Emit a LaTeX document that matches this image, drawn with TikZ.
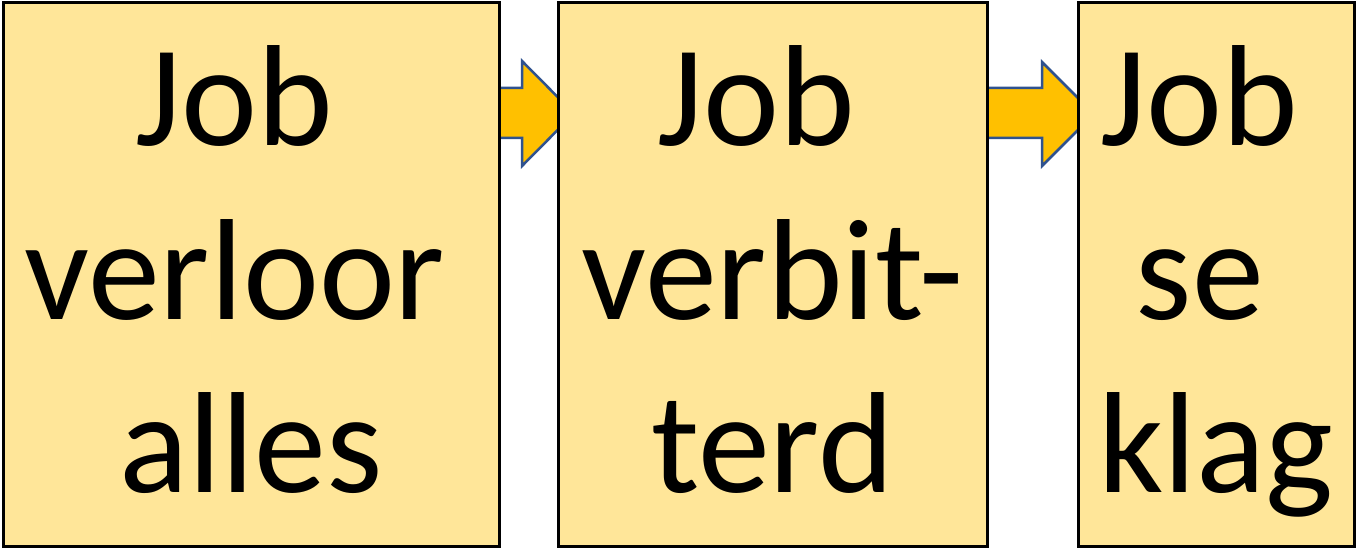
\documentclass[tikz,border=0pt]{standalone}
\usepackage{fontspec}
\setmainfont{Carlito}
\usetikzlibrary{calc}
\definecolor{boxfill}{HTML}{FFE699}
\definecolor{arrowfill}{HTML}{FFC000}
\definecolor{arrowline}{HTML}{2F528F}
\tikzset{
  box/.style={draw=black, line width=3pt, fill=boxfill, inner sep=0pt, rectangle},
  word/.style={anchor=base, inner sep=0pt, font=\fontsize{144}{170}\selectfont},
  blockarrow/.style={draw=arrowline, fill=arrowfill, line width=2.5pt, line join=miter},
}
\newcommand{\tsp}{\hspace*{0.226em}}
\begin{document}
\begin{tikzpicture}[x=1pt,y=-1pt]
\useasboundingbox (0,0) rectangle (1357,548);
% arrows (behind boxes)
\coordinate (a1s) at (490,113.5);
\coordinate (a2s) at (978,113.5);
\draw[blockarrow] (a1s |- 0,88) -- (522,88) -- (522,61) -- (574,113.5) -- (522,166) -- (522,138) -- (a1s |- 0,138) -- cycle;
\draw[blockarrow] (a2s |- 0,88) -- (1042,88) -- (1042,62) -- (1094,114) -- (1042,166) -- (1042,138) -- (a2s |- 0,138) -- cycle;
% boxes
\node[box, minimum width=496pt, minimum height=543pt] (b1) at (251,274.5) {};
\node[box, minimum width=429pt, minimum height=543pt] (b2) at (772.5,274.5) {};
\node[box, minimum width=276pt, minimum height=543pt] (b3) at (1216,274.5) {};
% text
\node[word] (t1a) at (b1.center |- 0,146) {Job\tsp};
\node[word] (t1b) at (b1.center |- 0,319) {verloor\tsp};
\node[word] (t1c) at (b1.center |- 0,492) {alles};
\node[word] (t2a) at (b2.center |- 0,146) {Job\tsp};
\node[word] (t2b) at (b2.center |- 0,319) {verbit-};
\node[word] (t2c) at (b2.center |- 0,492) {terd};
\node[word] (t3a) at (b3.center |- 0,146) {Job\tsp};
\node[word] (t3b) at (b3.center |- 0,319) {se\tsp};
\node[word] (t3c) at (b3.center |- 0,492) {klag};
\end{tikzpicture}
\end{document}
